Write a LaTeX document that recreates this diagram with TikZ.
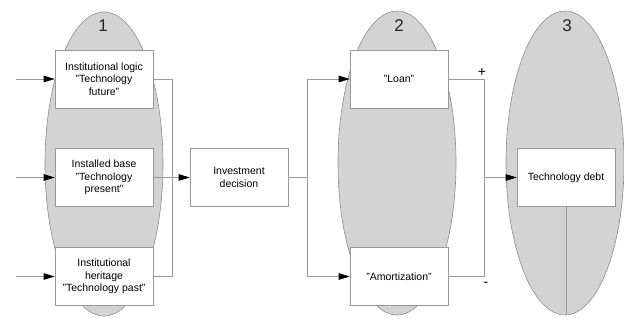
\documentclass[tikz,border=0pt]{standalone}
\usepackage{fontspec}
\setmainfont{Liberation Sans}
\usepackage{xcolor}
\usetikzlibrary{arrows.meta,shapes,positioning}
\definecolor{phase}{HTML}{D3D3D3}
\definecolor{rim}{HTML}{8C8C8C}
\definecolor{wire}{HTML}{999999}
\tikzset{%
        phase/.style = { ellipse, draw=rim, fill=phase, line width=0.6pt, inner sep=0pt,
                         minimum width=118pt, minimum height=304pt },
       factor/.style = { draw=wire, fill=white, line width=0.6pt, align=center,
                         minimum width=98pt, minimum height=58pt, inner sep=2pt,
                         font=\fontsize{10.5}{12.5}\selectfont },
         wire/.style = { draw=wire, line width=0.6pt },
         feed/.style = { wire, -{Triangle[length=11pt,width=6.5pt,color=black]} },
     phasenum/.style = { font=\fontsize{17}{20}\selectfont, text=black!85 },
         sign/.style = { font=\fontsize{14}{14}\selectfont }
}

\begin{document}
\begin{tikzpicture}[x=1pt,y=-1pt]
  \useasboundingbox (0,0) rectangle (624,322);

  % phases
  \node[phase] (e1) at (104,164) {};
  \node[phase] (e2) at (397,163) {};
  \node[phase] (e3) at (565,163) {};
  \node[phasenum] (n1) at (103,26) {1};
  \node[phasenum] (n2) at (399,26) {2};
  \node[phasenum] (n3) at (567,26) {3};

  % factors
  \node[factor] (fut) at (104,79) {Institutional logic\\"Technology\\future"};
  \node[factor] (pres) at (104,177.5) {Installed base\\"Technology\\present"};
  \node[factor] (past) at (104,276.5) {Institutional\\heritage\\"Technology past"};
  \node[factor] (inv) at (239,177.5) {Investment\\decision};
  \node[factor] (loan) at (399,79) {"Loan"};
  \node[factor] (amort) at (399,276.5) {"Amortization"};
  \node[factor] (debt) at (566,177.5) {Technology debt};

  % free ends and junctions
  \coordinate (in1) at (16,79);
  \coordinate (in2) at (16,177.5);
  \coordinate (in3) at (16,276.5);
  \coordinate (bus1) at (172,0);
  \coordinate (bus2) at (307,0);
  \coordinate (bus3) at (484,0);

  \draw[feed] (in1) -- (fut);
  \draw[feed] (in2) -- (pres);
  \draw[feed] (in3) -- (past);

  \draw[wire] (fut.east) -- (fut.east -| bus1) -- (past.east -| bus1) -- (past.east);
  \draw[feed] (pres) -- (inv);

  \draw[wire] (inv.east) -- (inv.east -| bus2);
  \draw[feed] (inv.east -| bus2) |- (loan.west);
  \draw[feed] (inv.east -| bus2) |- (amort.west);

  \draw[wire] (loan.east) -- (loan.east -| bus3) -- (amort.east -| bus3) -- (amort.east);
  \draw[feed] (debt.west -| bus3) -- (debt);
  \node[sign] (plus) at (482,72) {+};
  \node[sign] (minus) at (486,284) {-};

  \draw[wire] (debt.south) -- (debt.south |- e3.south);
\end{tikzpicture}
\end{document}
